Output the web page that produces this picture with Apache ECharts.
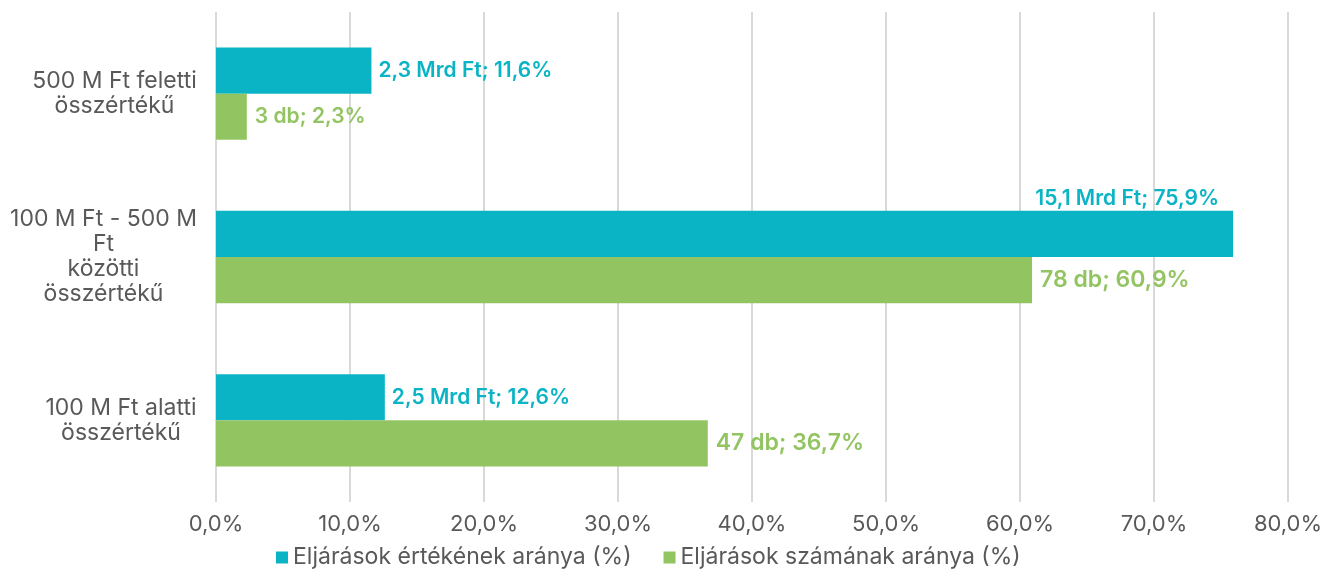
<!DOCTYPE html>
<html lang="hu">
<head>
    <meta charset="UTF-8">
    <title>Eljárások megoszlása</title>
    <style>
        html, body { margin: 0; padding: 0; background: #fff; }
    </style>
</head>
<body>
<div id="main" style="width:1339px; height:574px"></div>

<script src="https://cdn.jsdelivr.net/npm/echarts@6/dist/echarts.min.js"></script>
<script>
    // adatok
    var categories = ['500 M Ft feletti\nösszértékű', '100 M Ft - 500 M\nFt\nközötti\nösszértékű', '100 M Ft alatti\nösszértékű'];
    var valueShare = [11.6, 75.9, 12.6];          // Eljárások értékének aránya (%)
    var countShare = [2.3, 60.9, 36.7];           // Eljárások számának aránya (%)
    var valueAmounts = ['2,3', '15,1', '2,5'];    // Mrd Ft
    var counts = [3, 78, 47];                     // db
    var seriesNames = ['Eljárások értékének aránya (%)', 'Eljárások számának aránya (%)'];

    var FONT = 'Inter, Roboto, sans-serif';
    var TEAL = '#0ab4c5';
    var GREEN = '#93c462';
    var GREY = '#595959';

    function pct(v) {
        return v.toFixed(1).replace('.', ',') + '%';
    }

    // a kategória-feliratok sorai középre, a blokk jobbra igazítva
    var ctx = document.createElement('canvas').getContext('2d');
    ctx.font = '23px ' + FONT;
    var rich = {};
    categories.forEach(function (c, i) {
        var w = 0;
        c.split('\n').forEach(function (line) {
            w = Math.max(w, ctx.measureText(line).width);
        });
        rich['c' + i] = { width: Math.ceil(w), align: 'center', fontSize: 23, lineHeight: 25, color: GREY, fontFamily: FONT };
    });

    var myChart = echarts.init(document.getElementById('main'));

    var valueData = valueShare.map(function (v, i) {
        var item = { value: v };
        if (i === 1) {
            item.label = { position: ['100%', 0], align: 'right', verticalAlign: 'bottom', offset: [-14, -2] };
        }
        return item;
    });
    var countData = countShare.map(function (v, i) {
        var item = { value: v };
        if (i > 0) {
            item.label = { fontSize: 23 };
        }
        return item;
    });

    var option = {
        animation: false,
        grid: {
            left: 216,
            right: 51,
            top: 12,
            bottom: 72
        },
        legend: {
            data: seriesNames,
            bottom: 0,
            left: 271,
            icon: 'rect',
            itemWidth: 12,
            itemHeight: 12,
            itemGap: 32,
            textStyle: { fontSize: 23, color: GREY, fontFamily: FONT }
        },
        xAxis: {
            type: 'value',
            min: 0,
            max: 80,
            interval: 10,
            axisLine: { show: false },
            axisTick: { show: false },
            axisLabel: {
                formatter: pct,
                fontSize: 22,
                color: GREY,
                fontFamily: FONT,
                margin: 11
            },
            splitLine: { lineStyle: { color: '#d9d9d9', width: 2 } }
        },
        yAxis: {
            type: 'category',
            data: categories,
            inverse: true,
            axisLine: { show: false },
            axisTick: { show: false },
            axisLabel: {
                margin: 19,
                formatter: function (value, idx) {
                    return value.split('\n').map(function (l) {
                        return '{c' + idx + '|' + l + '}';
                    }).join('\n');
                },
                rich: rich
            }
        },
        series: [
            {
                name: seriesNames[0],
                type: 'bar',
                data: valueData,
                itemStyle: { color: TEAL },
                barGap: '0%',
                barCategoryGap: '43.5%',
                label: {
                    show: true,
                    position: 'right',
                    distance: 7,
                    color: TEAL,
                    fontWeight: 600,
                    fontSize: 21,
                    fontFamily: FONT,
                    formatter: function (p) {
                        return valueAmounts[p.dataIndex] + ' Mrd Ft; ' + pct(p.value);
                    }
                }
            },
            {
                name: seriesNames[1],
                type: 'bar',
                data: countData,
                itemStyle: { color: GREEN },
                barGap: '0%',
                barCategoryGap: '43.5%',
                label: {
                    show: true,
                    position: 'right',
                    distance: 8,
                    color: GREEN,
                    fontWeight: 600,
                    fontSize: 21,
                    fontFamily: FONT,
                    formatter: function (p) {
                        return counts[p.dataIndex] + ' db; ' + pct(p.value);
                    }
                }
            }
        ]
    };

    myChart.setOption(option);
</script>
</body>
</html>
